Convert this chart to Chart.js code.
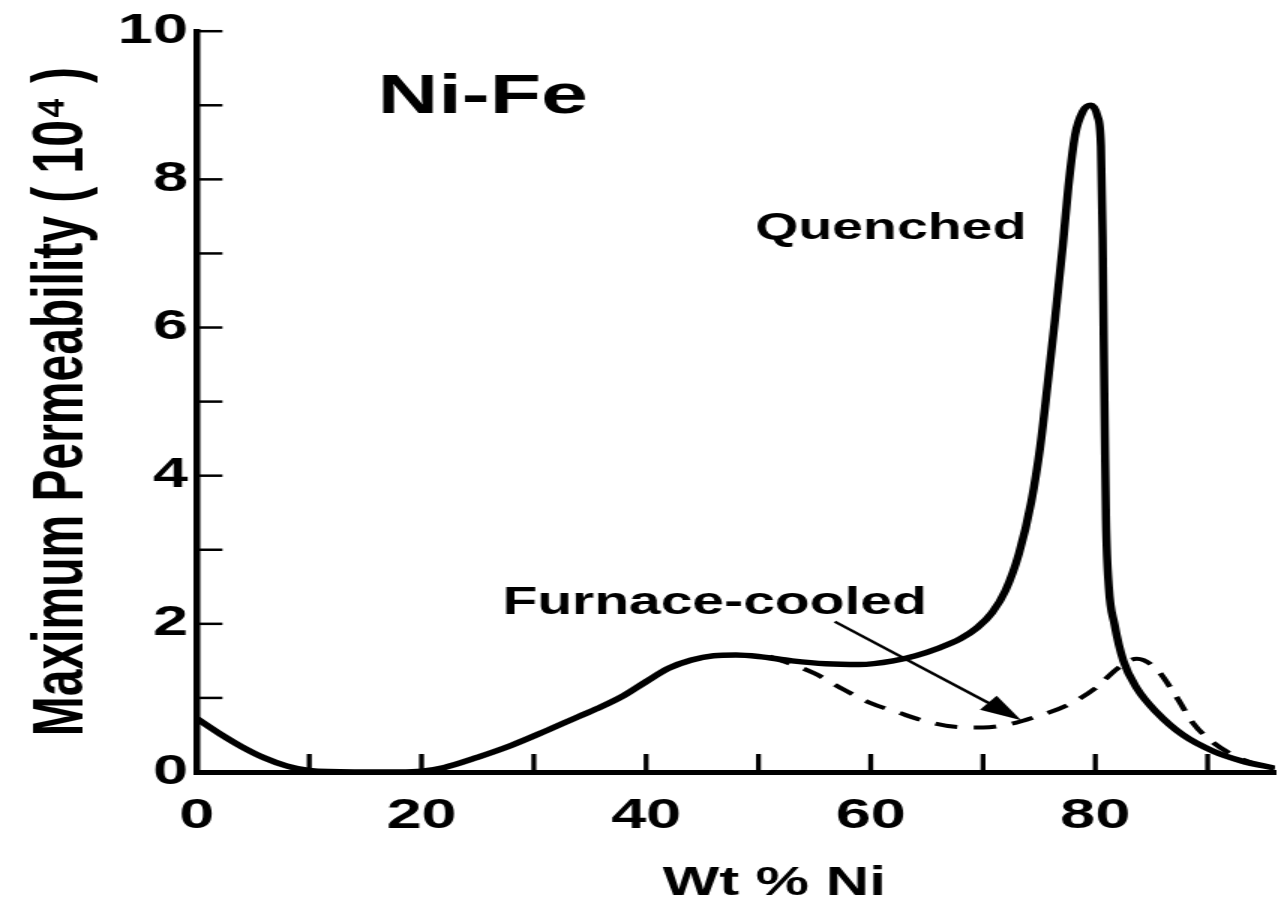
<!DOCTYPE html>
<html>
<head>
<meta charset="utf-8">
<title>Ni-Fe maximum permeability</title>
<script src="https://cdn.jsdelivr.net/npm/chart.js@4.4.1/dist/chart.umd.min.js"></script>
<style>
  html, body { margin: 0; padding: 0; background: #fff; }
  #chart { display: block; }
</style>
</head>
<body>
<!-- the scanned figure is stretched sideways, so draw narrow and widen with css -->
<canvas id="chart" width="852" height="908" style="width:1278px;height:908px"></canvas>
<script>
// Quenched (solid curve)
const quenchedX = [0, 2, 4, 6, 8, 10, 14, 18, 20, 22, 25, 28, 31, 34, 36, 38, 40, 42, 44, 46, 48, 50, 53, 56, 59, 62, 64, 66, 68, 69.5, 70.8, 72, 73.2, 74.3, 75.1, 75.8, 76.4, 77.1, 77.6, 78.2, 78.9, 79.6, 80.2, 80.5, 80.65, 80.75, 80.85, 80.95, 81.2, 81.7, 82.5, 83.7, 85.5, 87.8, 90.5, 93, 96];
const quenchedY = [0.72, 0.52, 0.34, 0.19, 0.08, 0.02, 0, 0, 0.01, 0.06, 0.2, 0.36, 0.55, 0.75, 0.88, 1.03, 1.22, 1.4, 1.51, 1.57, 1.58, 1.56, 1.5, 1.46, 1.45, 1.5, 1.57, 1.67, 1.8, 1.95, 2.15, 2.45, 2.95, 3.65, 4.4, 5.3, 6.1, 7.1, 7.9, 8.6, 8.92, 9.0, 8.85, 8.45, 7.2, 5.8, 4.5, 3.4, 2.5, 2.0, 1.5, 1.13, 0.8, 0.5, 0.28, 0.15, 0.05];

// Furnace-cooled (dashed curve), only where it leaves the quenched one
const furnaceX = [51, 55, 57.5, 60, 62.5, 65, 67.5, 70, 72.5, 75, 77.5, 80, 82, 83.7, 85.5, 87.2, 88.7, 90.3, 92, 94, 96];
const furnaceY = [1.56, 1.33, 1.12, 0.93, 0.8, 0.68, 0.61, 0.6, 0.65, 0.76, 0.9, 1.13, 1.4, 1.53, 1.38, 1.02, 0.66, 0.42, 0.25, 0.12, 0.04];

// axis ticks
const xTickMarks = [10, 20, 30, 40, 50, 60, 70, 80, 90];
const yTickMarks = [1, 2, 3, 4, 5, 6, 7, 8, 9, 10];

// arrow from the "Furnace-cooled" label to the dashed curve (data coords)
const arrowFrom = [56.8, 2.03];
const arrowTo = [73.4, 0.7];

const FONT = "'Liberation Sans', Arial, sans-serif";

function toPoints(xs, ys) {
  return xs.map((x, i) => ({ x: x, y: ys[i] }));
}

const sketchPlugin = {
  id: "sketch",
  afterDatasetsDraw(chart) {
    const { ctx, chartArea } = chart;
    const xs = chart.scales.x;
    const ys = chart.scales.y;
    ctx.save();
    ctx.strokeStyle = "#000";
    ctx.fillStyle = "#000";
    ctx.lineCap = "butt";

    // ticks point into the plot
    ctx.lineWidth = 2.5;
    yTickMarks.forEach((v) => {
      const py = ys.getPixelForValue(v);
      ctx.beginPath();
      ctx.moveTo(chartArea.left, py);
      ctx.lineTo(chartArea.left + 17, py);
      ctx.stroke();
    });
    ctx.lineWidth = 3.3;
    xTickMarks.forEach((v) => {
      const px = xs.getPixelForValue(v);
      ctx.beginPath();
      ctx.moveTo(px, chartArea.bottom);
      ctx.lineTo(px, chartArea.bottom - 18);
      ctx.stroke();
    });

    // arrow
    const x1 = xs.getPixelForValue(arrowFrom[0]);
    const y1 = ys.getPixelForValue(arrowFrom[1]);
    const x2 = xs.getPixelForValue(arrowTo[0]);
    const y2 = ys.getPixelForValue(arrowTo[1]);
    const len = Math.hypot(x2 - x1, y2 - y1);
    const ux = (x2 - x1) / len;
    const uy = (y2 - y1) / len;
    ctx.lineWidth = 2.5;
    ctx.beginPath();
    ctx.moveTo(x1, y1);
    ctx.lineTo(x2 - ux * 12, y2 - uy * 12);
    ctx.stroke();
    const headLen = 28;
    const headW = 9;
    ctx.beginPath();
    ctx.moveTo(x2, y2);
    ctx.lineTo(x2 - ux * headLen - uy * headW, y2 - uy * headLen + ux * headW);
    ctx.lineTo(x2 - ux * headLen + uy * headW, y2 - uy * headLen - ux * headW);
    ctx.closePath();
    ctx.fill();

    // labels
    ctx.textBaseline = "alphabetic";
    ctx.textAlign = "left";
    ctx.font = "bold 56px " + FONT;
    ctx.fillText("Ni-Fe", xs.getPixelForValue(16.1), ys.getPixelForValue(8.9));
    ctx.font = "bold 37px " + FONT;
    ctx.fillText("Quenched", xs.getPixelForValue(49.7), ys.getPixelForValue(7.19));
    ctx.font = "bold 38px " + FONT;
    ctx.fillText("Furnace-cooled", xs.getPixelForValue(27.2), ys.getPixelForValue(2.13));

    // x axis title, sits right of centre in the original
    ctx.textAlign = "center";
    ctx.font = "bold 40px " + FONT;
    ctx.fillText("Wt % Ni", xs.getPixelForValue(51.4), 895);
    ctx.restore();
  },
};

const ctx = document.getElementById("chart");

new Chart(ctx, {
  type: "line",
  data: {
    datasets: [
      {
        label: "Quenched",
        data: toPoints(quenchedX, quenchedY),
        borderColor: "#000",
        borderWidth: 5.5,
        pointRadius: 0,
        cubicInterpolationMode: "monotone",
        fill: false,
      },
      {
        label: "Furnace-cooled",
        data: toPoints(furnaceX, furnaceY),
        borderColor: "#000",
        borderWidth: 4,
        borderDash: [15, 11],
        pointRadius: 0,
        cubicInterpolationMode: "monotone",
        fill: false,
      },
    ],
  },
  options: {
    responsive: false,
    animation: false,
    events: [],
    layout: { padding: { top: 22, right: 2, left: 0, bottom: 0 } },
    plugins: {
      legend: { display: false },
      tooltip: { enabled: false },
    },
    scales: {
      x: {
        type: "linear",
        min: 0,
        max: 96,
        afterFit: (s) => {
          s.height = 136;
        },
        grid: { drawOnChartArea: false, drawTicks: false },
        border: { color: "#000", width: 5 },
        ticks: {
          stepSize: 20,
          includeBounds: false,
          padding: 19,
          maxRotation: 0,
          color: "#000",
          font: { family: FONT, size: 42, weight: "bold" },
        },
      },
      y: {
        min: 0,
        max: 10,
        afterFit: (s) => {
          s.width = 131.3;
        },
        grid: { drawOnChartArea: false, drawTicks: false },
        border: { color: "#000", width: 4.5 },
        ticks: {
          stepSize: 2,
          padding: 6,
          color: "#000",
          font: { family: FONT, size: 42, weight: "bold" },
        },
        title: {
          display: true,
          text: "Maximum Permeability ( 10⁴ )",
          color: "#000",
          padding: { top: 13, bottom: 0 },
          font: { family: FONT, size: 48, weight: "bold" },
        },
      },
    },
  },
  plugins: [sketchPlugin],
});
</script>
</body>
</html>
